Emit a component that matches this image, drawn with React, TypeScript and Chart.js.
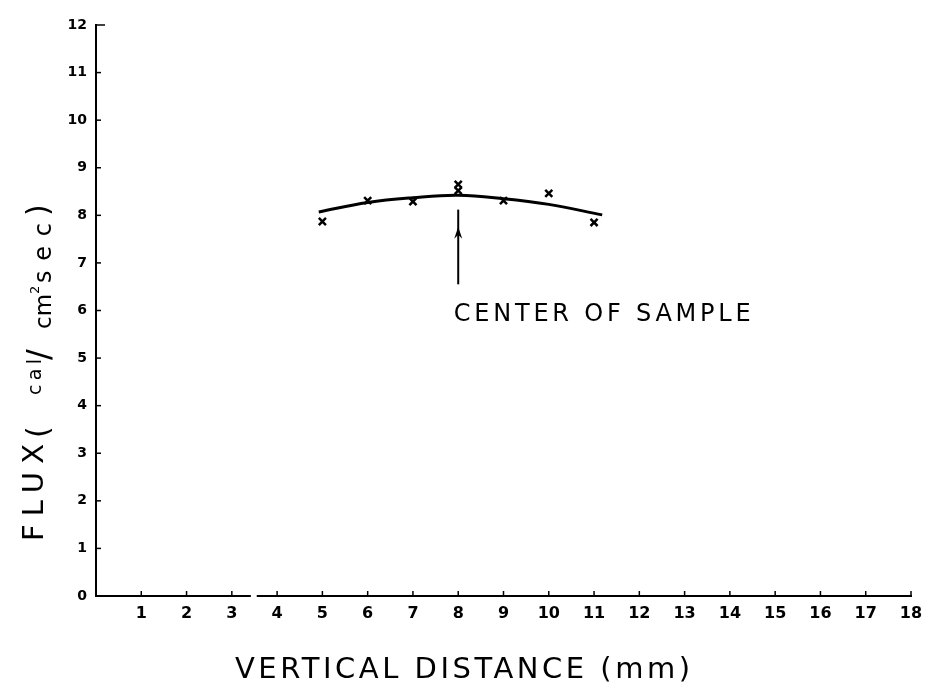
import React, { useEffect, useRef } from "react";
import { Chart, registerables } from "chart.js";

Chart.register(...registerables);

// ---- data ----
const xTickValues = [0, 1, 2, 3, 4, 5, 6, 7, 8, 9, 10, 11, 12, 13, 14, 15, 16, 17, 18];
const yTickValues = [0, 1, 2, 3, 4, 5, 6, 7, 8, 9, 10, 11, 12];
const measuredX = [5, 6, 7, 8, 8, 9, 10, 11];
const measuredFlux = [7.87, 8.31, 8.29, 8.65, 8.52, 8.31, 8.46, 7.85];
const fitX = [4.92, 6, 7, 8, 9, 10, 11.18];
const fitFlux = [8.07, 8.27, 8.37, 8.42, 8.35, 8.23, 8.01];
const arrowX = [8, 8];
const arrowFlux = [6.55, 8.12];
const arrowTipFlux = 7.76;
const annotationLabel = "CENTER OF SAMPLE";
const xAxisTitle = "VERTICAL DISTANCE (mm)";
const yTitleParts = ["FLUX", "(", "cal", "/", "cm", "2", "sec", ")"];

const FONT = '"DejaVu Sans", sans-serif';

function fitText(ctx: any, text: string, x: number, y: number, width: number) {
  ctx.letterSpacing = "0px";
  const w = ctx.measureText(text).width;
  const n = text.length;
  const sp = n > 1 ? Math.max(0, (width - w) / (n - 1)) : 0;
  ctx.letterSpacing = sp.toFixed(2) + "px";
  ctx.fillText(text, x, y);
  ctx.letterSpacing = "0px";
}

const overlay = {
  id: "overlay",
  afterDraw(chart: any) {
    const ctx = chart.ctx;
    const xs = chart.scales.x;
    const ys = chart.scales.y;
    const area = chart.chartArea;
    ctx.save();
    ctx.strokeStyle = "#000";
    ctx.fillStyle = "#000";
    ctx.lineWidth = 1.5;
    // inward ticks
    yTickValues.forEach((v) => {
      if (v === 0) return;
      const py = ys.getPixelForValue(v);
      ctx.beginPath();
      ctx.moveTo(area.left, py);
      ctx.lineTo(area.left + (v === 12 ? 9 : 5), py);
      ctx.stroke();
    });
    xTickValues.forEach((v) => {
      if (v === 0) return;
      const px = xs.getPixelForValue(v);
      ctx.beginPath();
      ctx.moveTo(px, area.bottom);
      ctx.lineTo(px, area.bottom - 5);
      ctx.stroke();
    });
    // gap in x axis between 3 and 4
    ctx.fillStyle = "#fff";
    const g0 = xs.getPixelForValue(3.42);
    const g1 = xs.getPixelForValue(3.55);
    ctx.fillRect(g0, area.bottom - 2, g1 - g0, 4);
    ctx.fillStyle = "#000";
    // arrowhead
    const ax = xs.getPixelForValue(arrowX[0]);
    const ay = ys.getPixelForValue(arrowTipFlux);
    ctx.beginPath();
    ctx.moveTo(ax, ay);
    ctx.lineTo(ax - 4, ay + 12);
    ctx.lineTo(ax, ay + 8);
    ctx.lineTo(ax + 4, ay + 12);
    ctx.closePath();
    ctx.fill();
    // annotation
    ctx.textBaseline = "alphabetic";
    ctx.textAlign = "left";
    ctx.font = `24px ${FONT}`;
    fitText(ctx, annotationLabel, xs.getPixelForValue(7.9), ys.getPixelForValue(5.77), 297);
    // x title
    ctx.font = `29px ${FONT}`;
    fitText(ctx, xAxisTitle, 235, 678, 455);
    // y title (rotated)
    ctx.translate(43, 541);
    ctx.rotate(-Math.PI / 2);
    const pieces: [string, number, number, number, number][] = [
      // text, font size, start, width, baseline shift
      [yTitleParts[0], 29, 0, 97, 0],
      [yTitleParts[1], 30, 103, 12, 5],
      [yTitleParts[2], 19, 146, 36, -2],
      [yTitleParts[3], 32, 181, 12, 6],
      [yTitleParts[4], 23, 212, 34, 8],
      [yTitleParts[5], 13, 247, 8, -4],
      [yTitleParts[6], 24, 258, 60, 8],
      [yTitleParts[7], 30, 325, 12, 5],
    ];
    pieces.forEach(([t, size, start, width, shift]) => {
      ctx.font = `${size}px ${FONT}`;
      if (t.length > 1) fitText(ctx, t, start, shift, width);
      else ctx.fillText(t, start, shift);
    });
    ctx.restore();
  },
};

export default function App() {
  const ref = useRef<HTMLCanvasElement | null>(null);
  useEffect(() => {
    if (!ref.current) return;
    const chart = new Chart(ref.current, {
      type: "scatter",
      data: {
        datasets: [
          {
            label: "fit",
            data: fitX.map((x, i) => ({ x, y: fitFlux[i] })),
            showLine: true,
            borderColor: "#000",
            borderWidth: 3,
            pointRadius: 0,
            tension: 0.4,
            fill: false,
          },
          {
            label: "measured",
            data: measuredX.map((x, i) => ({ x, y: measuredFlux[i] })),
            showLine: false,
            pointStyle: "crossRot",
            pointRadius: 5,
            borderColor: "#000",
            backgroundColor: "#000",
            borderWidth: 2.5,
          },
          {
            label: "arrow",
            data: arrowX.map((x, i) => ({ x, y: arrowFlux[i] })),
            showLine: true,
            borderColor: "#000",
            borderWidth: 2,
            pointRadius: 0,
            fill: false,
          },
        ],
      } as any,
      options: {
        responsive: false,
        animation: false,
        layout: { padding: { top: 25, right: 21, left: 0, bottom: 0 } },
        plugins: { legend: { display: false }, tooltip: { enabled: false } },
        scales: {
          x: {
            type: "linear",
            min: 0,
            max: 18,
            afterFit: (s: any) => {
              s.height = 104;
            },
            afterBuildTicks: (s: any) => {
              s.ticks = xTickValues.map((v) => ({ value: v }));
            },
            ticks: {
              autoSkip: false,
              maxRotation: 0,
              padding: 8,
              color: "#000",
              font: { family: FONT, size: 16, weight: "bold" },
              callback: (v: any) => (v === 0 ? "" : String(v)),
            },
            grid: { drawOnChartArea: false, drawTicks: false },
            border: { display: true, color: "#000", width: 2 },
          },
          y: {
            type: "linear",
            min: 0,
            max: 12,
            afterFit: (s: any) => {
              s.width = 96;
            },
            afterBuildTicks: (s: any) => {
              s.ticks = yTickValues.map((v) => ({ value: v }));
            },
            ticks: {
              autoSkip: false,
              padding: 9,
              color: "#000",
              font: { family: FONT, size: 14, weight: "bold" },
              callback: (v: any) => String(v),
            },
            grid: { drawOnChartArea: false, drawTicks: false },
            border: { display: true, color: "#000", width: 2 },
          },
        },
      } as any,
      plugins: [overlay],
    });
    return () => chart.destroy();
  }, []);
  return (
    <div style={{ position: "absolute", left: 0, top: 0, width: 932, height: 700, background: "#fff" }}>
      <canvas ref={ref} width={932} height={700} />
    </div>
  );
}
